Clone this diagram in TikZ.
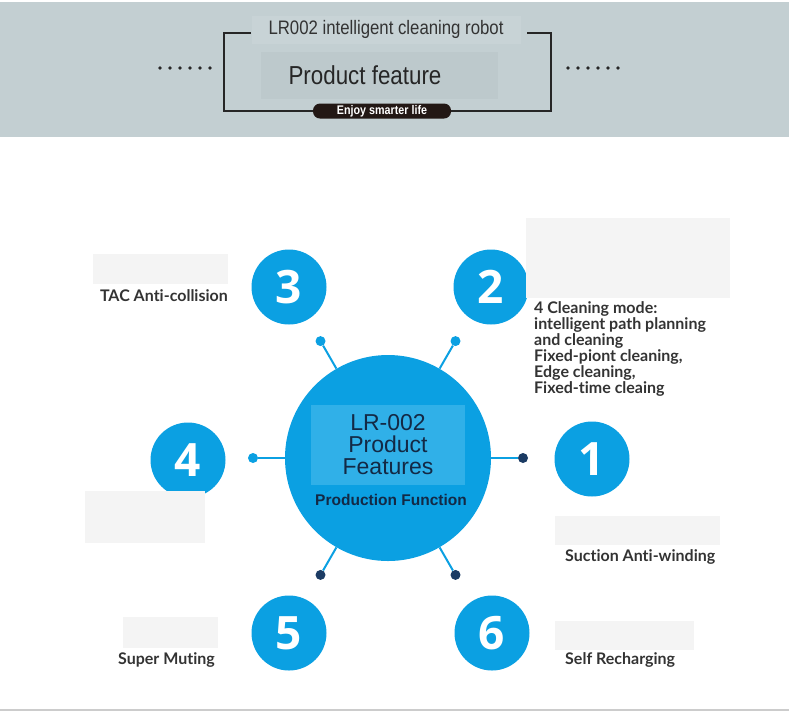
\documentclass[tikz,border=0pt]{standalone}
\usepackage{fontspec}
\setmainfont{Liberation Sans}
\newfontfamily\labfont{Lato}[Ligatures=NoCommon]
\newfontfamily\numfont{Open Sans}
\newfontfamily\narrowfont{Liberation Sans}[FakeStretch=0.86]
\usetikzlibrary{calc}
\definecolor{banner}{HTML}{C3CFD2}
\definecolor{bannerlight}{HTML}{C8D3D6}
\definecolor{bannerbox}{HTML}{BDC9CC}
\definecolor{robotblue}{HTML}{0BA0E2}
\definecolor{innerblue}{HTML}{30B0E8}
\definecolor{navy}{HTML}{1B3B63}
\definecolor{placeholder}{HTML}{F4F4F4}
\definecolor{labgray}{HTML}{333333}
\definecolor{pillblack}{HTML}{231815}

\begin{document}
\begin{tikzpicture}[x=1pt,y=-1pt,
	num/.style={circle,fill=robotblue,minimum size=75pt,inner sep=0pt,text=white,font=\numfont\bfseries\fontsize{46}{46}\selectfont},
	lab/.style={text=labgray,inner sep=0pt,font=\labfont\bfseries\fontsize{16}{16}\selectfont},
	pad/.style={fill=placeholder},
	spoke/.style={robotblue,line width=2pt},
	lightdot/.style={circle,fill=robotblue,minimum size=10pt,inner sep=0pt},
	darkdot/.style={circle,fill=navy,minimum size=10pt,inner sep=0pt},
	pill/.style={fill=pillblack,text=white,rounded corners=7pt,minimum width=138pt,minimum height=15pt,inner sep=0pt,font=\narrowfont\bfseries\fontsize{12.5}{12.5}\selectfont}]
			\useasboundingbox (0,0) rectangle (789,713);
			
			% banner
			\fill[banner] (0,2) rectangle (789,137);
			\fill[bannerlight] (252,16) rectangle (521,44);
			\fill[bannerbox] (261,52) rectangle (498,99);
			\draw[line width=2pt,black!85] (251,33) -- (224,33) -- (224,111) -- (551,111) -- (551,33) -- (527,33);
			\node[font=\narrowfont\fontsize{19.5}{19.5}\selectfont,text=black!80] (head) at (386,29) {LR002 intelligent cleaning robot};
			\node[font=\narrowfont\fontsize{26}{26}\selectfont,text=black!85] (feature) at (365,75) {Product feature};
			\node[pill] (slogan) at (382,111) {Enjoy smarter life};
			\foreach \i in {0,...,5}{
				\fill[black!85] (160+\i*10,68) circle (1.8);
				\fill[black!85] (568+\i*10,68) circle (1.8);
			}
			
			% hub
			\node[circle,fill=robotblue,minimum size=206pt,inner sep=0pt] (hub) at (388,458) {};
			\fill[innerblue] (311,405) rectangle (465,485);
			\node[align=center,text=navy!70!black,font=\fontsize{23}{22}\selectfont] (title) at (388,445) {LR-002\\Product\\Features};
			\node[text=navy!70!black,font=\bfseries\fontsize{15.5}{15.5}\selectfont] (func) at (391,500) {Production Function};
			
			% y axis points down, so angles turn clockwise
			\foreach \a/\s/\n in {0/darkdot/r,300/lightdot/tr,240/lightdot/tl,180/lightdot/l,120/darkdot/bl,60/darkdot/br}{
				\node[\s] (dot\n) at ($(hub.center)+(\a:135)$) {};
				\draw[spoke] (hub) -- (dot\n);
			}
			
			% numbers
			\node[num] (n1) at (592,459) {1};
			\node[num] (n2) at (491,287) {2};
			\node[num] (n3) at (289,287) {3};
			\node[num] (n4) at (188,460) {4};
			\node[num] (n5) at (289,633) {5};
			\node[num] (n6) at (492,633) {6};
			
			% labels
			\fill[pad] (93,254) rectangle (228,284);
			\node[lab,anchor=east] (lab3) at (228,296) {TAC Anti-collision};
			\fill[pad] (526,218) rectangle (730,298);
			\node[lab,anchor=north west,align=left] (lab2) at (534,301) {4 Cleaning mode:\\intelligent path planning\\and cleaning\\Fixed-piont cleaning,\\Edge cleaning,\\Fixed-time cleaing};
			\fill[pad] (85,491) rectangle (205,543);
			\fill[pad] (555,516) rectangle (720,545);
			\node[lab,anchor=west] (lab1) at (565,557) {Suction Anti-winding};
			\fill[pad] (123,617) rectangle (218,648);
			\node[lab,anchor=east] (lab5) at (215,660) {Super Muting};
			\fill[pad] (555,621) rectangle (694,650);
			\node[lab,anchor=west] (lab6) at (565,660) {Self Recharging};
			
			\draw[black!20,line width=1.5pt] (0,710) -- (789,710);
		\end{tikzpicture}
\end{document}
